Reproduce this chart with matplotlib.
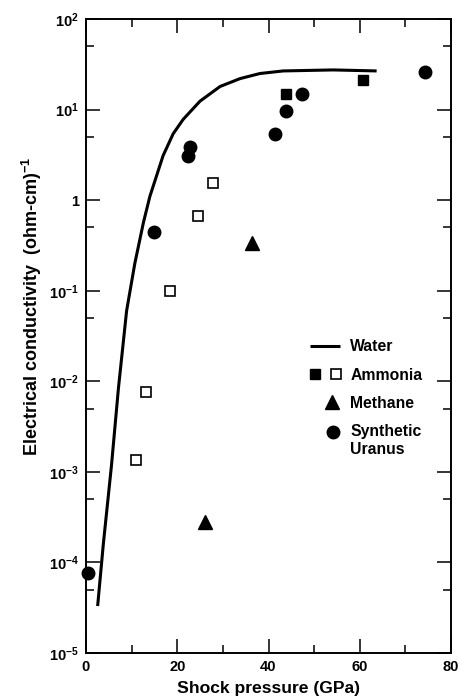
import matplotlib
matplotlib.use('Agg')
import matplotlib.pyplot as plt
from matplotlib.lines import Line2D
from matplotlib.ticker import LogLocator, NullFormatter, FixedLocator, FixedFormatter, MultipleLocator
from matplotlib.legend_handler import HandlerTuple

plt.rcParams['font.family'] = ['Liberation Sans', 'DejaVu Sans']
plt.rcParams['font.weight'] = 'bold'
plt.rcParams['mathtext.fontset'] = 'custom'
plt.rcParams['mathtext.rm'] = 'Liberation Sans:bold'
plt.rcParams['mathtext.bf'] = 'Liberation Sans:bold'
plt.rcParams['mathtext.default'] = 'bf'

# water curve
water_p = [2.55, 3.8, 5.6, 7.1, 8.9, 10.7, 12.6, 14.0, 16.9, 19.1, 21.3, 25.0, 29.4, 33.8, 38.1, 43.2, 54.2, 63.7]
water_s = [3.3e-5, 1.6e-4, 1.2e-3, 8.3e-3, 0.06, 0.2, 0.57, 1.1, 3.1, 5.4, 7.8, 12.4, 18, 22, 25, 26.7, 27.4, 26.7]

# ammonia: filled and open squares
amm_fill_p = [43.8, 60.8]
amm_fill_s = [14.8, 21.2]
amm_open_p = [11.0, 13.1, 18.4, 24.5, 27.8]
amm_open_s = [1.34e-3, 7.6e-3, 0.10, 0.66, 1.55]

# methane
meth_p = [26.1, 36.3]
meth_s = [2.8e-4, 0.34]

# synthetic uranus
ura_p = [0.4, 14.8, 22.3, 22.9, 41.5, 43.8, 47.3, 74.3]
ura_s = [7.6e-5, 0.44, 3.05, 3.85, 5.4, 9.6, 14.8, 26]

ytick_vals = [1e-5, 1e-4, 1e-3, 1e-2, 1e-1, 1, 1e1, 1e2]
ytick_labels = ['10$^{-5}$', '10$^{-4}$', '10$^{-3}$', '10$^{-2}$', '10$^{-1}$', '1', '10$^{1}$', '10$^{2}$']


class MarkerHandler:
    """single legend marker, shifted right / up inside the handle box"""
    def __init__(self, fx=0.73, dy=0.0):
        self.fx = fx
        self.dy = dy

    def legend_artist(self, legend, orig_handle, fontsize, handlebox):
        x0, y0 = handlebox.xdescent, handlebox.ydescent
        w, h = handlebox.width, handlebox.height
        m = Line2D([x0 + self.fx * w], [h / 2 - y0 + self.dy * fontsize], ls='none',
                   marker=orig_handle.get_marker(), ms=orig_handle.get_markersize(),
                   mfc=orig_handle.get_markerfacecolor(), mec=orig_handle.get_markeredgecolor(),
                   transform=handlebox.get_transform())
        handlebox.add_artist(m)
        return m


fig = plt.figure(figsize=(4.61, 6.98), dpi=100)
ax = fig.add_axes([86 / 461, 45 / 698, 365 / 461, 634 / 698])

water, = ax.plot(water_p, water_s, color='black', lw=2.2, solid_capstyle='butt')
afill, = ax.plot(amm_fill_p, amm_fill_s, 's', color='black', ms=7.7, ls='none')
aopen, = ax.plot(amm_open_p, amm_open_s, 's', mfc='white', mec='black', mew=1.2, ms=7.4, ls='none')
meth, = ax.plot(meth_p, meth_s, '^', color='black', ms=10, ls='none')
ura, = ax.plot(ura_p, ura_s, 'o', color='black', ms=9, ls='none', clip_on=False)

ax.set_yscale('log')
ax.set_xlim(0, 80)
ax.set_ylim(1e-5, 1e2)

ax.xaxis.set_major_locator(MultipleLocator(20))
ax.xaxis.set_minor_locator(MultipleLocator(10))
ax.yaxis.set_major_locator(FixedLocator(ytick_vals))
ax.yaxis.set_major_formatter(FixedFormatter(ytick_labels))
ax.yaxis.set_minor_locator(LogLocator(base=10, subs=[5]))
ax.yaxis.set_minor_formatter(NullFormatter())

ax.tick_params(which='both', direction='in', top=True, right=True, width=1.1, labelsize=10.5)
ax.tick_params(which='major', length=10, pad=5)
ax.tick_params(which='minor', length=6)
for s in ax.spines.values():
    s.set_linewidth(1.4)

ax.set_xlabel('Shock pressure (GPa)', fontsize=12.6, fontweight='bold', labelpad=5)
ax.set_ylabel('Electrical conductivity  (ohm-cm)$^{-1}$', fontsize=13, fontweight='bold')
ax.yaxis.set_label_coords(-0.115, 0.547)

ax.legend([water, (afill, aopen), meth, ura],
          ['Water', 'Ammonia', 'Methane', 'Synthetic\nUranus'],
          handler_map={tuple: HandlerTuple(ndivide=None, pad=0.76),
                       meth: MarkerHandler(0.73, 0.0),
                       ura: MarkerHandler(0.77, 0.55)},
          loc='upper left', bbox_to_anchor=(0.614, 0.495), frameon=False,
          borderpad=0, borderaxespad=0, handlelength=1.91, handletextpad=0.64,
          labelspacing=0.85, prop={'weight': 'bold', 'size': 11.3})

fig.savefig('out.png', dpi=100)
